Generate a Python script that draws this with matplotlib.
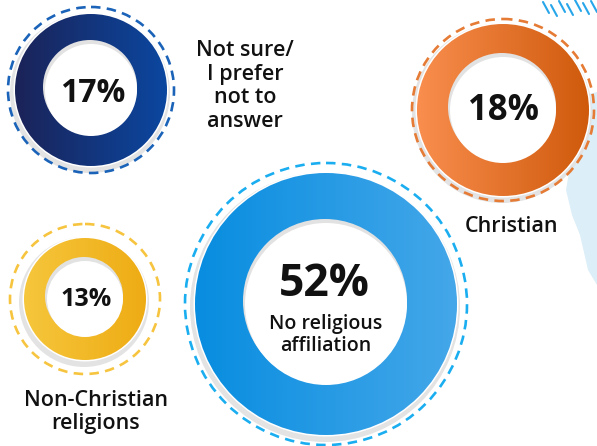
import matplotlib
matplotlib.use("Agg")
import matplotlib.pyplot as plt
from matplotlib.patches import Circle, Polygon
from matplotlib.colors import LinearSegmentedColormap
import numpy as np

# survey shares
categories = ["Not sure/\nI prefer\nnot to\nanswer", "Christian",
              "Non-Christian\nreligions", "No religious\naffiliation"]
shares = [17, 18, 13, 52]

# ring gradients (left -> right) and dashed outline colours
grad_left = ["#1b2358", "#f98e4e", "#f6c63c", "#088de0"]
grad_right = ["#0b47a0", "#cf5a0c", "#eeac14", "#44a7e9"]
dash_colors = ["#1a63b8", "#e57b35", "#f6c43e", "#1aaef0"]

# layout in pixels: centre, dashed radius, ring radius, hole radius
centers = [(91, 90), (503, 110), (85, 299), (326, 304)]
r_dash = [83, 91, 75, 141]
r_ring = [76, 86, 61, 131]
r_hole = [46, 53, 38, 81]
pct_size = [23, 25, 18, 32]

W, H = 597, 446
fig = plt.figure(figsize=(W / 100, H / 100), dpi=100)
ax = fig.add_axes([0, 0, 1, 1])
ax.set_xlim(0, W)
ax.set_ylim(H, 0)
ax.set_aspect("equal")
ax.axis("off")

# faint map splash on the right edge
ax.add_patch(Polygon([(572, 70), (585, 95), (597, 92), (597, 285), (588, 270),
                      (580, 235), (572, 215), (566, 190), (571, 160), (566, 130)],
                     closed=True, facecolor="#dceef8", edgecolor="none", zorder=0))
for x0, y0 in [(543, 2), (551, 5), (559, 1), (567, 4), (575, 0), (583, 3), (591, 1)]:
    ax.plot([x0, x0 + 6], [y0, y0 + 11], color="#28a6ea", lw=1.5,
            solid_capstyle="round", zorder=0)

grad = np.linspace(0, 1, 256).reshape(1, -1)

for i in range(4):
    cx, cy = centers[i]
    ro, ri = r_ring[i], r_hole[i]

    # soft grey shadow and white rim round the ring
    ax.add_patch(Circle((cx - 1, cy + 3), ro + 4, facecolor="#e3e3e3",
                        edgecolor="none", zorder=1))
    ax.add_patch(Circle((cx, cy), ro + 1.5, facecolor="white",
                        edgecolor="none", zorder=1.5))

    # gradient-filled disc
    cmap = LinearSegmentedColormap.from_list(f"g{i}", [grad_left[i], grad_right[i]])
    img = ax.imshow(grad, cmap=cmap, extent=(cx - ro, cx + ro, cy + ro, cy - ro),
                    aspect="auto", interpolation="bicubic", zorder=2)
    clip = Circle((cx, cy), ro, transform=ax.transData)
    img.set_clip_path(clip)

    # hole with a grey edge along the top
    ax.add_patch(Circle((cx - 1, cy - 3), ri + 1, facecolor="#e2e2e2",
                        edgecolor="none", zorder=3))
    ax.add_patch(Circle((cx, cy), ri, facecolor="white",
                        edgecolor="none", zorder=3.5))

    # dashed outline
    ax.add_patch(Circle((cx, cy), r_dash[i], facecolor="none",
                        edgecolor=dash_colors[i], lw=1.9,
                        linestyle=(0, (3.6, 2.4)), zorder=4))

font = "Open Sans"

# percentages
ax.text(93, 93, f"{shares[0]}%", fontsize=pct_size[0], fontweight="bold",
        family=font, ha="center", va="center", color="#111111", zorder=5)
ax.text(503, 111, f"{shares[1]}%", fontsize=pct_size[1], fontweight="bold",
        family=font, ha="center", va="center", color="#111111", zorder=5)
ax.text(86, 300, f"{shares[2]}%", fontsize=pct_size[2], fontweight="bold",
        family=font, ha="center", va="center", color="#111111", zorder=5)
ax.text(324, 284, f"{shares[3]}%", fontsize=pct_size[3], fontweight="bold",
        family=font, ha="center", va="center", color="#111111", zorder=5)

# category labels
ax.text(245, 86, categories[0], fontsize=15.5, fontweight="semibold",
        family=font, ha="center", va="center", linespacing=1.18,
        color="#111111", zorder=5)
ax.text(512, 226, categories[1], fontsize=15.5, fontweight="semibold",
        family=font, ha="center", va="center", color="#111111", zorder=5)
ax.text(96, 412, categories[2], fontsize=15.5, fontweight="semibold",
        family=font, ha="center", va="center", linespacing=1.18,
        color="#111111", zorder=5)
ax.text(326, 335, categories[3], fontsize=14, fontweight="semibold",
        family=font, ha="center", va="center", linespacing=1.1,
        color="#111111", zorder=5)

fig.savefig("out.png", dpi=100)
